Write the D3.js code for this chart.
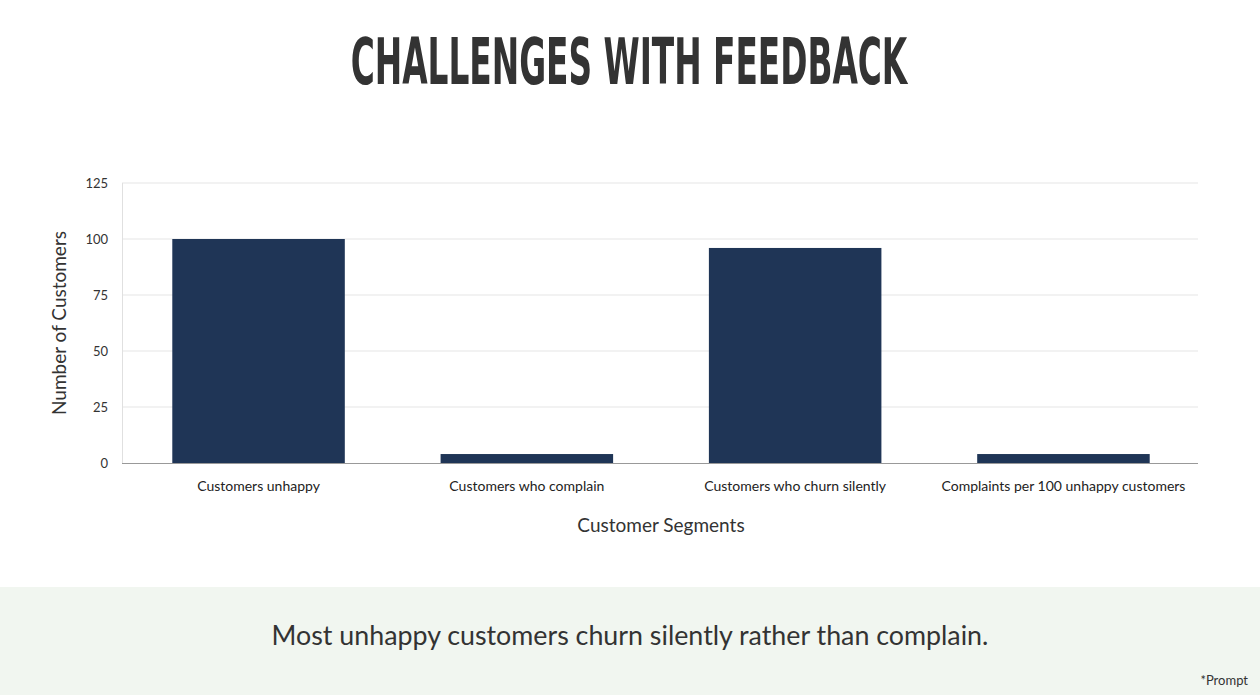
<!DOCTYPE html>
<html>
<head>
<meta charset="utf-8">
<script src="https://cdn.jsdelivr.net/npm/d3@7"></script>
<style>
  body { margin: 0; background: #fff; }
  svg { display: block; }
</style>
</head>
<body>
<div id="chart"></div>
<script>
// data
const categories = [
  'Customers unhappy',
  'Customers who complain',
  'Customers who churn silently',
  'Complaints per 100 unhappy customers'
];
const values = [100, 4, 96, 4];
const yTicks = [0, 25, 50, 75, 100, 125];

const width = 1260, height = 695;
const margin = { top: 183, right: 62, bottom: 232, left: 122 };
const bodyFont = 'Lato, "Open Sans", sans-serif';

const svg = d3.select('#chart').append('svg')
  .attr('width', width)
  .attr('height', height);

// title: condensed bold, squeezed horizontally to the reference width
const title = svg.append('text')
  .attr('x', 0)
  .attr('y', 0)
  .attr('text-anchor', 'middle')
  .attr('font-family', '"Liberation Sans Narrow", "DejaVu Sans Condensed", sans-serif')
  .attr('font-weight', 'bold')
  .attr('font-size', 64)
  .attr('fill', '#333333')
  .text('CHALLENGES WITH FEEDBACK');
const titleW = title.node().getBBox().width;
title.attr('transform', `translate(629,84) scale(${558 / titleW},1)`);

const x = d3.scaleBand()
  .domain(categories)
  .range([margin.left + 2, width - margin.right])
  .paddingInner(0.357)
  .paddingOuter(0.18);

const y = d3.scaleLinear()
  .domain([0, 125])
  .range([height - margin.bottom, margin.top]);

// gridlines
svg.append('g')
  .selectAll('line')
  .data(yTicks.filter(d => d > 0))
  .join('line')
  .attr('x1', margin.left)
  .attr('x2', width - margin.right)
  .attr('y1', d => y(d))
  .attr('y2', d => y(d))
  .attr('stroke', '#e5e5e5')
  .attr('stroke-width', 1);

// left axis line
svg.append('line')
  .attr('x1', margin.left + 0.5)
  .attr('x2', margin.left + 0.5)
  .attr('y1', y(125))
  .attr('y2', y(0))
  .attr('stroke', '#e0e0e0');

// bars
svg.append('g')
  .selectAll('rect')
  .data(values)
  .join('rect')
  .attr('x', (d, i) => x(categories[i]))
  .attr('width', x.bandwidth())
  .attr('y', d => y(d))
  .attr('height', d => y(0) - y(d))
  .attr('fill', '#1f3556');

// y axis ticks
const yAxis = svg.append('g')
  .attr('transform', `translate(${margin.left},0)`)
  .call(d3.axisLeft(y).tickValues(yTicks).tickSize(0).tickPadding(14));
yAxis.select('.domain').remove();
yAxis.selectAll('text')
  .attr('font-family', bodyFont)
  .attr('font-size', 13)
  .attr('fill', '#333');

// x axis
const xAxis = svg.append('g')
  .attr('transform', `translate(0,${y(0)})`)
  .call(d3.axisBottom(x).tickSize(0).tickPadding(18));
xAxis.select('.domain')
  .attr('stroke', '#999')
  .attr('d', `M${margin.left},0.5H${width - margin.right}`);
xAxis.selectAll('text')
  .attr('font-family', bodyFont)
  .attr('font-size', 14)
  .attr('fill', '#222');

// axis titles
svg.append('text')
  .attr('transform', `translate(66,${(y(0) + y(125)) / 2}) rotate(-90)`)
  .attr('text-anchor', 'middle')
  .attr('font-family', bodyFont)
  .attr('font-size', 19)
  .attr('fill', '#333')
  .text('Number of Customers');

svg.append('text')
  .attr('x', 661)
  .attr('y', 532)
  .attr('text-anchor', 'middle')
  .attr('font-family', bodyFont)
  .attr('font-size', 19)
  .attr('fill', '#333')
  .text('Customer Segments');

// footer band
svg.append('rect')
  .attr('x', 0)
  .attr('y', 587)
  .attr('width', width)
  .attr('height', height - 587)
  .attr('fill', '#f1f6f0');

svg.append('text')
  .attr('x', 630)
  .attr('y', 645)
  .attr('text-anchor', 'middle')
  .attr('font-family', bodyFont)
  .attr('font-size', 26.8)
  .attr('fill', '#333')
  .text('Most unhappy customers churn silently rather than complain.');

svg.append('text')
  .attr('x', 1248)
  .attr('y', 685)
  .attr('text-anchor', 'end')
  .attr('font-family', bodyFont)
  .attr('font-size', 13)
  .attr('fill', '#333')
  .text('*Prompt');
</script>
</body>
</html>
